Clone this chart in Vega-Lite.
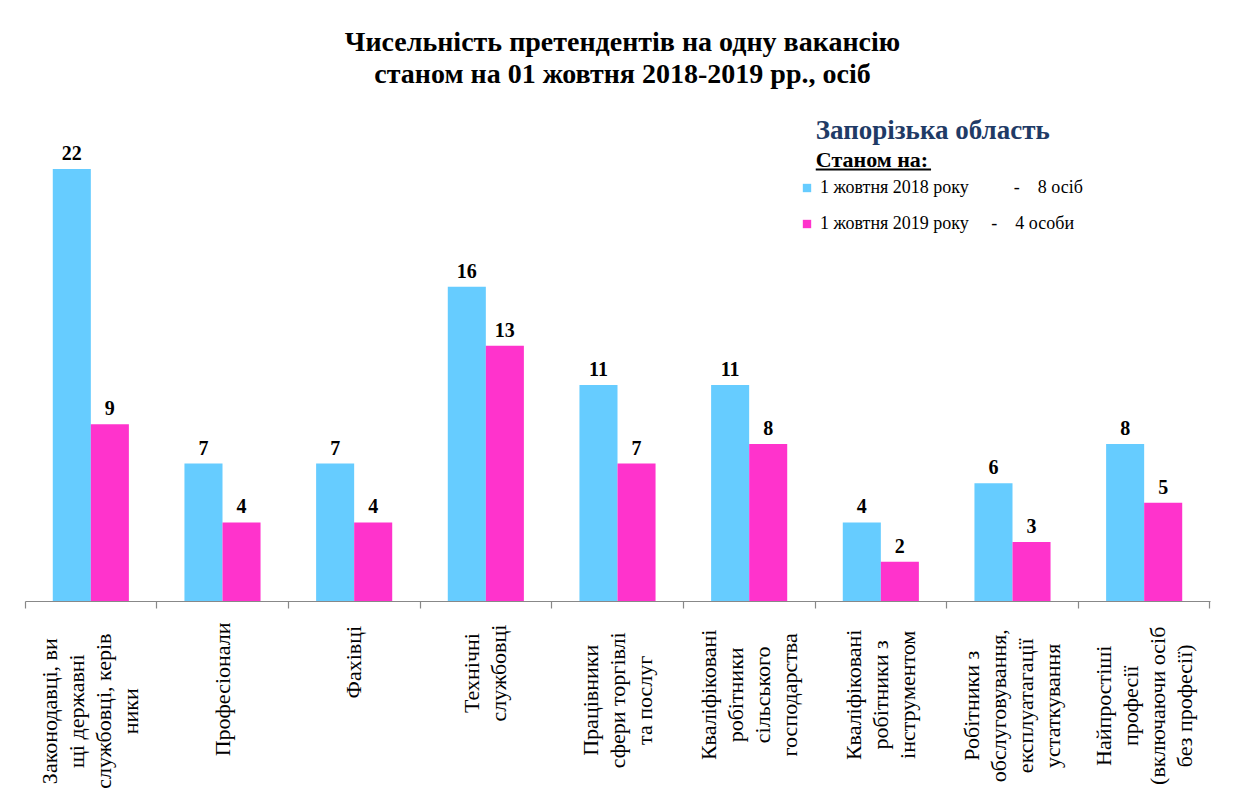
{
  "$schema": "https://vega.github.io/schema/vega-lite/v6.json",
  "autosize": "none",
  "width": 1185,
  "height": 432,
  "padding": {"left": 25, "top": 169, "right": 27, "bottom": 195},
  "background": "white",
  "config": {
    "font": "Liberation Serif, DejaVu Serif, serif",
    "view": {"stroke": null}
  },
  "title": {
    "text": ["Чисельність претендентів на одну вакансію", "станом на 01 жовтня 2018-2019 рр., осіб"],
    "font": "Liberation Serif, DejaVu Serif, serif",
    "fontSize": 28,
    "fontWeight": "bold",
    "color": "black",
    "anchor": "middle",
    "frame": "group",
    "lineHeight": 32,
    "offset": 28,
    "dx": 5
  },
  "datasets": {
    "main": [
      {"category": "Законодавці, вищі державні службовці, керівники", "series": "2018", "value": 22},
      {"category": "Законодавці, вищі державні службовці, керівники", "series": "2019", "value": 9},
      {"category": "Професіонали", "series": "2018", "value": 7},
      {"category": "Професіонали", "series": "2019", "value": 4},
      {"category": "Фахівці", "series": "2018", "value": 7},
      {"category": "Фахівці", "series": "2019", "value": 4},
      {"category": "Технічні службовці", "series": "2018", "value": 16},
      {"category": "Технічні службовці", "series": "2019", "value": 13},
      {"category": "Працівники сфери торгівлі та послуг", "series": "2018", "value": 11},
      {"category": "Працівники сфери торгівлі та послуг", "series": "2019", "value": 7},
      {"category": "Кваліфіковані робітники сільського господарства", "series": "2018", "value": 11},
      {"category": "Кваліфіковані робітники сільського господарства", "series": "2019", "value": 8},
      {"category": "Кваліфіковані робітники з інструментом", "series": "2018", "value": 4},
      {"category": "Кваліфіковані робітники з інструментом", "series": "2019", "value": 2},
      {"category": "Робітники з обслуговування, експлуатагації устаткування", "series": "2018", "value": 6},
      {"category": "Робітники з обслуговування, експлуатагації устаткування", "series": "2019", "value": 3},
      {"category": "Найпростіші професії (включаючи осіб без професії)", "series": "2018", "value": 8},
      {"category": "Найпростіші професії (включаючи осіб без професії)", "series": "2019", "value": 5}
    ],
    "cats": [
      {"category": "Законодавці, вищі державні службовці, керівники", "lines": ["Законодавці, ви", "щі державні", "службовці, керів", "ники"]},
      {"category": "Професіонали", "lines": ["Професіонали"]},
      {"category": "Фахівці", "lines": ["Фахівці"]},
      {"category": "Технічні службовці", "lines": ["Технічні", "службовці"]},
      {"category": "Працівники сфери торгівлі та послуг", "lines": ["Працівники", "сфери торгівлі", "та послуг"]},
      {"category": "Кваліфіковані робітники сільського господарства", "lines": ["Кваліфіковані", "робітники", "сільського", "господарства"]},
      {"category": "Кваліфіковані робітники з інструментом", "lines": ["Кваліфіковані", "робітники з", "інструментом"]},
      {"category": "Робітники з обслуговування, експлуатагації устаткування", "lines": ["Робітники з", "обслуговування,", "експлуатагації", "устаткування"]},
      {"category": "Найпростіші професії (включаючи осіб без професії)", "lines": ["Найпростіші", "професії", "(включаючи осіб", "без професії)"]}
    ]
  },
  "resolve": {"axis": {"x": "independent"}},
  "layer": [
    {
      "data": {"name": "main"},
      "mark": {"type": "bar"},
      "encoding": {
        "x": {
          "field": "category",
          "type": "nominal",
          "sort": null,
          "scale": {"paddingInner": 0.422, "paddingOuter": 0.211},
          "axis": {
            "orient": "bottom",
            "title": null,
            "labels": false,
            "ticks": false,
            "domainColor": "#888888",
            "domainWidth": 1.2,
            "grid": false
          }
        },
        "xOffset": {"field": "series", "type": "nominal", "scale": {"paddingInner": 0, "paddingOuter": 0}},
        "y": {"field": "value", "type": "quantitative", "scale": {"domain": [0, 22], "nice": false}, "axis": null},
        "color": {
          "field": "series",
          "type": "nominal",
          "scale": {"domain": ["2018", "2019"], "range": ["#66CCFF", "#FF33CC"]},
          "legend": {
            "orient": "none",
            "legendX": 773,
            "legendY": 10,
            "title": null,
            "symbolType": "square",
            "symbolSize": 70,
            "symbolStrokeWidth": 0,
            "labelFont": "Liberation Serif, DejaVu Serif, serif",
            "labelFontSize": 18,
            "labelColor": "black",
            "labelOffset": 4,
            "labelLimit": 0,
            "rowPadding": 18,
            "labelExpr": "datum.value == '2018' ? '1 жовтня 2018 року\u00a0\u00a0\u00a0\u00a0\u00a0\u00a0\u00a0\u00a0\u00a0\u00a0-\u00a0\u00a0\u00a0\u00a08 осіб' : '1 жовтня 2019 року\u00a0\u00a0\u00a0\u00a0\u00a0-\u00a0\u00a0\u00a0\u00a04 особи'"
          }
        }
      }
    },
    {
      "data": {"name": "main"},
      "mark": {"type": "text", "baseline": "alphabetic", "dy": -9, "font": "Liberation Serif, DejaVu Serif, serif", "fontSize": 20, "fontWeight": "bold", "color": "black"},
      "encoding": {
        "x": {
          "field": "category",
          "type": "nominal",
          "sort": null,
          "axis": {
            "orient": "bottom",
            "title": null,
            "labels": false,
            "domain": false,
            "grid": false,
            "bandPosition": -0.365,
            "tickSize": 7,
            "tickColor": "#888888",
            "tickWidth": 1.2
          }
        },
        "xOffset": {"field": "series", "type": "nominal"},
        "y": {"field": "value", "type": "quantitative"},
        "text": {"field": "value", "type": "quantitative"}
      }
    },
    {
      "data": {"name": "cats"},
      "mark": {
        "type": "text",
        "angle": -90,
        "align": "center",
        "baseline": "middle",
        "font": "Liberation Serif, DejaVu Serif, serif",
        "fontSize": 22,
        "lineHeight": 27,
        "color": "black",
        "dy": {"expr": "-(length(datum.lines) - 1) * 13.5"},
        "dx": {"expr": "-23 - 5.45 * max(length(datum.lines[0]), length(datum.lines[1] || ''), length(datum.lines[2] || ''), length(datum.lines[3] || ''))"}
      },
      "encoding": {
        "x": {"field": "category", "type": "nominal", "sort": null, "axis": null},
        "y": {"datum": 0, "type": "quantitative"},
        "text": {"field": "lines"}
      }
    },
    {
      "data": {"values": [{"category": "Кваліфіковані робітники з інструментом", "y": 23.55, "text": "Запорізька область"}]},
      "mark": {"type": "text", "align": "left", "baseline": "alphabetic", "dx": -27, "font": "Liberation Serif, DejaVu Serif, serif", "fontSize": 27, "fontWeight": "bold", "color": "#1F3B66"},
      "encoding": {
        "x": {
          "field": "category",
          "type": "nominal",
          "sort": null,
          "bandPosition": 0,
          "axis": {
            "orient": "bottom",
            "title": null,
            "labels": false,
            "domain": false,
            "grid": false,
            "values": ["Найпростіші професії (включаючи осіб без професії)"],
            "bandPosition": 1.365,
            "tickSize": 7,
            "tickColor": "#888888",
            "tickWidth": 1.2
          }
        },
        "y": {"field": "y", "type": "quantitative"},
        "text": {"field": "text"}
      }
    },
    {
      "data": {"values": [{"category": "Кваліфіковані робітники з інструментом", "y": 22.1, "text": "Станом на:"}]},
      "mark": {"type": "text", "align": "left", "baseline": "alphabetic", "dx": -27, "font": "Liberation Serif, DejaVu Serif, serif", "fontSize": 22, "fontWeight": "bold", "color": "black"},
      "encoding": {
        "x": {"field": "category", "type": "nominal", "sort": null, "bandPosition": 0, "axis": null},
        "y": {"field": "y", "type": "quantitative"},
        "text": {"field": "text"}
      }
    },
    {
      "data": {"values": [{"category": "Кваліфіковані робітники з інструментом", "y": 21.97}]},
      "mark": {"type": "rule", "color": "black", "strokeWidth": 2},
      "encoding": {
        "x": {"field": "category", "type": "nominal", "sort": null, "bandPosition": -0.355, "axis": null},
        "x2": {"field": "category", "bandPosition": 1.16},
        "y": {"field": "y", "type": "quantitative"}
      }
    }
  ]
}
